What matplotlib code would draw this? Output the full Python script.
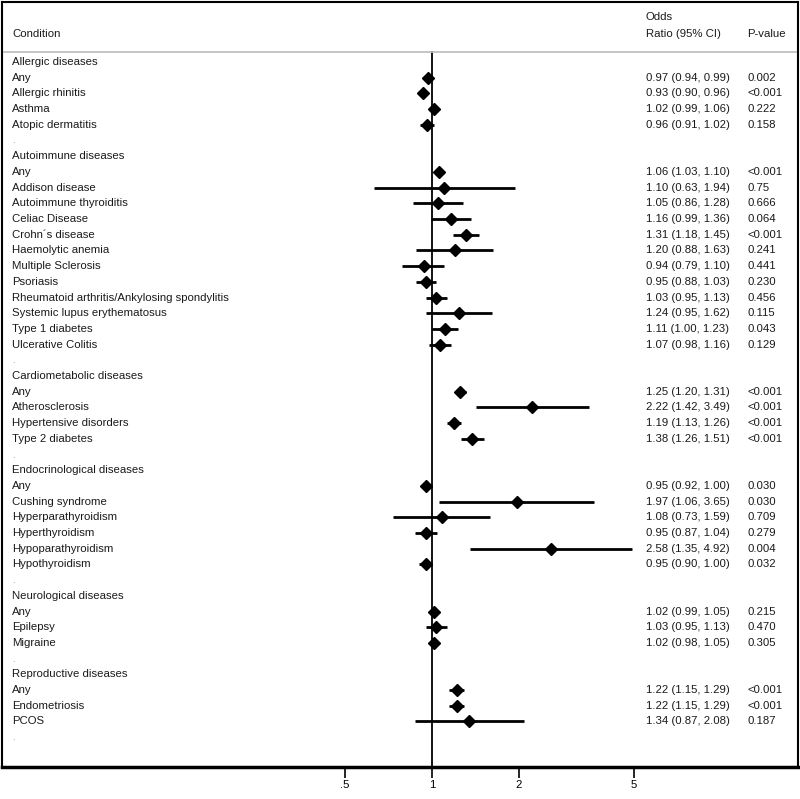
import numpy as np
import matplotlib.pyplot as plt
from matplotlib.transforms import blended_transform_factory

plt.rcParams['font.family'] = ['Liberation Sans', 'DejaVu Sans']

# rows: group headers (None values), conditions, and "." spacer rows
labels = [
    "Allergic diseases", "Any", "Allergic rhinitis", "Asthma", "Atopic dermatitis", ".",
    "Autoimmune diseases", "Any", "Addison disease", "Autoimmune thyroiditis", "Celiac Disease",
    "Crohn´s disease", "Haemolytic anemia", "Multiple Sclerosis", "Psoriasis",
    "Rheumatoid arthritis/Ankylosing spondylitis", "Systemic lupus erythematosus",
    "Type 1 diabetes", "Ulcerative Colitis", ".",
    "Cardiometabolic diseases", "Any", "Atherosclerosis", "Hypertensive disorders", "Type 2 diabetes", ".",
    "Endocrinological diseases", "Any", "Cushing syndrome", "Hyperparathyroidism", "Hyperthyroidism",
    "Hypoparathyroidism", "Hypothyroidism", ".",
    "Neurological diseases", "Any", "Epilepsy", "Migraine", ".",
    "Reproductive diseases", "Any", "Endometriosis", "PCOS", ".",
]
odds = [
    None, 0.97, 0.93, 1.02, 0.96, None,
    None, 1.06, 1.10, 1.05, 1.16, 1.31, 1.20, 0.94, 0.95, 1.03, 1.24, 1.11, 1.07, None,
    None, 1.25, 2.22, 1.19, 1.38, None,
    None, 0.95, 1.97, 1.08, 0.95, 2.58, 0.95, None,
    None, 1.02, 1.03, 1.02, None,
    None, 1.22, 1.22, 1.34, None,
]
ci_low = [
    None, 0.94, 0.90, 0.99, 0.91, None,
    None, 1.03, 0.63, 0.86, 0.99, 1.18, 0.88, 0.79, 0.88, 0.95, 0.95, 1.00, 0.98, None,
    None, 1.20, 1.42, 1.13, 1.26, None,
    None, 0.92, 1.06, 0.73, 0.87, 1.35, 0.90, None,
    None, 0.99, 0.95, 0.98, None,
    None, 1.15, 1.15, 0.87, None,
]
ci_high = [
    None, 0.99, 0.96, 1.06, 1.02, None,
    None, 1.10, 1.94, 1.28, 1.36, 1.45, 1.63, 1.10, 1.03, 1.13, 1.62, 1.23, 1.16, None,
    None, 1.31, 3.49, 1.26, 1.51, None,
    None, 1.00, 3.65, 1.59, 1.04, 4.92, 1.00, None,
    None, 1.05, 1.13, 1.05, None,
    None, 1.29, 1.29, 2.08, None,
]
pvals = [
    None, "0.002", "<0.001", "0.222", "0.158", None,
    None, "<0.001", "0.75", "0.666", "0.064", "<0.001", "0.241", "0.441", "0.230", "0.456",
    "0.115", "0.043", "0.129", None,
    None, "<0.001", "<0.001", "<0.001", "<0.001", None,
    None, "0.030", "0.030", "0.709", "0.279", "0.004", "0.032", None,
    None, "0.215", "0.470", "0.305", None,
    None, "<0.001", "<0.001", "0.187", None,
]
xticks = [0.5, 1, 2, 5]
xticklabels = [".5", "1", "2", "5"]

fig = plt.figure(figsize=(8, 7.99), dpi=100)
ax = fig.add_axes([0.003, 1 - 767 / 799, 0.994, (767 - 2) / 799])

ax.set_xscale('log')
ax.set_xlim(10 ** (-430 / 289), 10 ** (366 / 289))
ax.set_ylim(44.9, -3.82)

trans = blended_transform_factory(ax.transAxes, ax.transData)
fs = 8.2
col = '#1a1a1a'

# header
ax.text(0.0126, -1.78, "Condition", transform=trans, fontsize=fs, va='center', color=col)
ax.text(0.809, -2.87, "Odds", transform=trans, fontsize=fs, va='center', color=col)
ax.text(0.809, -1.78, "Ratio (95% CI)", transform=trans, fontsize=fs, va='center', color=col)
ax.text(0.937, -1.78, "P-value", transform=trans, fontsize=fs, va='center', color=col)
ax.axhline(-0.64, color='#bbbbbb', lw=1.2)

# reference line at OR = 1
ax.plot([1, 1], [-0.64, 44.9], color='black', lw=1.3, zorder=1)

for i, lab in enumerate(labels):
    if lab == ".":
        ax.text(0.0126, i, ".", transform=trans, fontsize=7, va='center', color='#7a9a6a')
        continue
    ax.text(0.0126, i, lab, transform=trans, fontsize=fs, va='center', color=col)
    if odds[i] is None:
        continue
    ax.plot([ci_low[i], ci_high[i]], [i, i], color='black', lw=2, solid_capstyle='butt', zorder=2)
    ax.plot(odds[i], i, marker='D', color='black', markersize=6.3, zorder=3)
    ax.text(0.809, i, f"{odds[i]:.2f} ({ci_low[i]:.2f}, {ci_high[i]:.2f})",
            transform=trans, fontsize=fs, va='center', color=col)
    ax.text(0.937, i, pvals[i], transform=trans, fontsize=fs, va='center', color=col)

ax.set_yticks([])
ax.set_xticks(xticks)
ax.set_xticklabels(xticklabels, fontsize=fs)
ax.minorticks_off()
ax.tick_params(axis='x', length=8, width=1.2, pad=1, direction='out')
for s in ['left', 'right', 'top']:
    ax.spines[s].set_linewidth(1.5)
ax.spines['bottom'].set_linewidth(2.5)

fig.savefig('out.png', dpi=100)
